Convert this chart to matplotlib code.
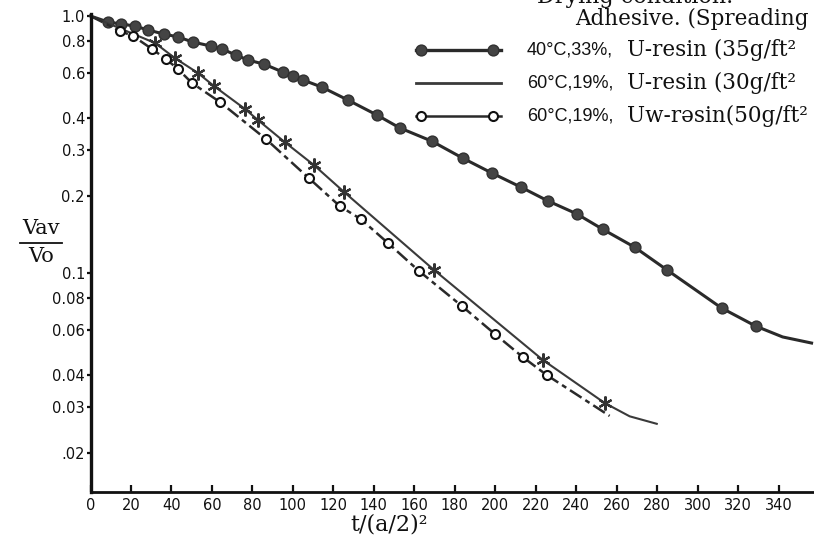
import matplotlib.pyplot as plt
from matplotlib.lines import Line2D
from matplotlib.ticker import FixedLocator, FixedFormatter, NullLocator

# 40°C, 33%, U-resin (35g/ft²) -- filled circles, heavy solid line
x_40 = [0, 8.6, 15.1, 22.0, 28.4, 36.3, 43.2, 50.6, 59.5, 64.9, 71.9, 77.8, 85.7,
        95.1, 100.0, 104.9, 114.3, 127.2, 141.5, 152.8, 168.6, 183.9, 198.3,
        212.6, 225.9, 240.2, 253.1, 268.9, 284.7, 311.8, 328.6, 342.0, 356.3]
y_40 = [1.0, 0.948, 0.931, 0.914, 0.882, 0.851, 0.829, 0.792, 0.764, 0.744, 0.705,
        0.674, 0.650, 0.605, 0.584, 0.564, 0.529, 0.471, 0.412, 0.367, 0.326,
        0.280, 0.245, 0.216, 0.191, 0.170, 0.148, 0.126, 0.103, 0.0731, 0.0622,
        0.0564, 0.0534]
marks_40 = list(range(1, 31))

# 60°C, 19%, U-resin (30g/ft²) -- asterisks, thin solid line
x_60u = [0, 31.9, 41.7, 53.1, 61.0, 76.3, 82.7, 96.0, 110.4, 125.2, 169.6,
         223.5, 254.1, 266.4, 279.8]
y_60u = [1.0, 0.785, 0.686, 0.600, 0.534, 0.435, 0.394, 0.323, 0.263, 0.207,
         0.103, 0.0459, 0.0312, 0.0277, 0.0259]
marks_60u = list(range(1, 13))

# 60°C, 19%, Uw-resin (50g/ft²) -- open circles, dash-dot line
x_60w = [0, 14.6, 21.0, 30.4, 37.3, 43.2, 50.1, 63.9, 86.7, 107.9, 123.2, 133.6,
         146.9, 162.2, 183.5, 199.8, 213.6, 225.4, 256.5]
y_60w = [1.0, 0.874, 0.836, 0.744, 0.680, 0.622, 0.549, 0.463, 0.332, 0.234,
         0.182, 0.162, 0.131, 0.102, 0.0744, 0.0579, 0.0471, 0.0401, 0.0278]
marks_60w = list(range(1, 18))

y_ticks = [1.0, 0.8, 0.6, 0.4, 0.3, 0.2, 0.1, 0.08, 0.06, 0.04, 0.03, 0.02]
y_labels = ['1.0', '0.8', '0.6', '0.4', '0.3', '0.2', '0.1', '0.08', '0.06',
            '0.04', '0.03', '.02']
x_ticks = list(range(0, 341, 20))

# legend text as far as the scan shows it (it is cut at the right edge)
legend_rows = [('40°C,33%,', 'U-resin (35g/ft²'),
               ('60°C,19%,', 'U-resin (30g/ft²'),
               ('60°C,19%,', 'Uw-rəsin(50g/ft²')]

W, H = 814, 539
fig = plt.figure(figsize=(W / 100, H / 100), dpi=100)
ax = fig.add_axes([90.5 / W, 1 - 492 / H, 1 - 90.5 / W, (492 - 13.8) / H])


def fx(px):
    return px / W


def fy(py):
    return 1 - py / H


ink = '#2a2a2a'
ax.plot(x_40, y_40, color=ink, lw=2.2, marker='o', markevery=marks_40, ms=7.8,
        mfc='#444444', mec='#303030', mew=1.0, clip_on=False)
ax.plot(x_60u, y_60u, color='#3a3a3a', lw=1.5, marker=(6, 2, 0), markevery=marks_60u,
        ms=10, mec='#333333', mew=1.6, clip_on=False)
ax.plot(x_60w, y_60w, color=ink, lw=1.8, ls=(0, (5.5, 1.8, 2.0, 1.8)), marker='o',
        markevery=marks_60w, ms=6.5, mfc='white', mec='#111111', mew=1.5, clip_on=False)

ax.set_yscale('log')
ax.set_xlim(0, 357.5)
ax.set_ylim(0.01406, 1.02)
ax.yaxis.set_major_locator(FixedLocator(y_ticks))
ax.yaxis.set_major_formatter(FixedFormatter(y_labels))
ax.yaxis.set_minor_locator(NullLocator())
ax.set_xticks(x_ticks)

for s in ['top', 'right']:
    ax.spines[s].set_visible(False)
ax.spines['left'].set_linewidth(2.4)
ax.spines['bottom'].set_linewidth(2.0)
ax.spines['left'].set_color('#111111')
ax.spines['bottom'].set_color('#111111')
ax.tick_params(axis='y', direction='out', length=3, width=1.6, pad=1,
               labelsize=10.5, colors='#111111')
ax.tick_params(axis='x', direction='in', length=5, width=1.6, pad=4,
               labelsize=10.5, colors='#111111')
for lab in ax.get_xticklabels() + ax.get_yticklabels():
    lab.set_fontfamily('DejaVu Sans')

# axis labels
fig.text(fx(41), fy(229), 'Vav', ha='center', va='center', family='DejaVu Serif',
         fontsize=15, color='#111111')
fig.add_artist(Line2D([fx(20), fx(62)], [fy(243), fy(243)], color='#111111', lw=1.3))
fig.text(fx(41), fy(257), 'Vo', ha='center', va='center', family='DejaVu Serif',
         fontsize=15, color='#111111')
fig.text(fx(389), fy(524), 't/(a/2)²', ha='center', va='center', family='DejaVu Serif',
         fontsize=16, color='#111111')

# legend block, top line partly cut as in the scan
fig.text(fx(537), fy(-3), 'Drying condition.', ha='left', va='center',
         family='DejaVu Serif', fontsize=16, color='#111111')
fig.text(fx(575), fy(19), 'Adhesive. (Spreading', ha='left', va='center',
         family='DejaVu Serif', fontsize=15.5, color='#111111')
row_y = [50, 83, 116]
lines = [dict(color=ink, lw=2.4), dict(color='#3a3a3a', lw=2.0), dict(color=ink, lw=1.8)]
dots = [dict(marker='o', ms=7.8, mfc='#444444', mec='#303030'),
        None,
        dict(marker='o', ms=6.5, mfc='white', mec='#111111', mew=1.5)]
for (a, b), py, ln, dt in zip(legend_rows, row_y, lines, dots):
    fig.add_artist(Line2D([fx(416), fx(501)], [fy(py), fy(py)], **ln))
    if dt:
        fig.add_artist(Line2D([fx(421), fx(493)], [fy(py), fy(py)], ls='none', **dt))
    fig.text(fx(527), fy(py), a, ha='left', va='center', family='Liberation Sans',
             fontsize=13, color='#111111')
    fig.text(fx(627), fy(py), b, ha='left', va='center', family='DejaVu Serif',
             fontsize=15.5, color='#111111')

fig.savefig('out.png', dpi=100)
